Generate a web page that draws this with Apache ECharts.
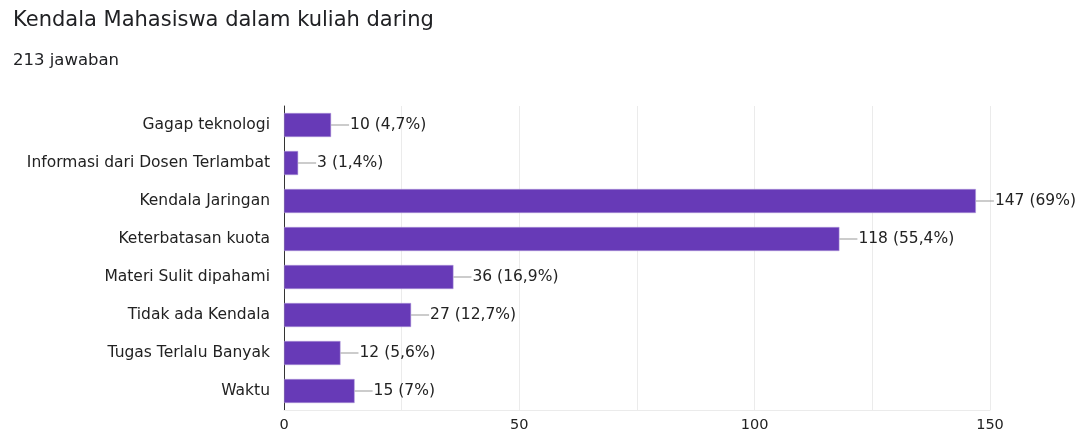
<!DOCTYPE html>
<html>
<head>
<meta charset="utf-8">
<script src="https://cdn.jsdelivr.net/npm/echarts@6/dist/echarts.min.js"></script>
<style>
  html, body { margin: 0; padding: 0; background: #fff; }
  #chart { width: 1079px; height: 439px; }
</style>
</head>
<body>
<div id="chart"></div>
<script>
const categories = [
  'Gagap teknologi',
  'Informasi dari Dosen Terlambat',
  'Kendala Jaringan',
  'Keterbatasan kuota',
  'Materi Sulit dipahami',
  'Tidak ada Kendala',
  'Tugas Terlalu Banyak',
  'Waktu'
];
const counts = [10, 3, 147, 118, 36, 27, 12, 15];
const percents = ['4,7%', '1,4%', '69%', '55,4%', '16,9%', '12,7%', '5,6%', '7%'];
const xTicks = [0, 50, 100, 150];

const chart = echarts.init(document.getElementById('chart'));
const fontName = 'DejaVu Sans';

chart.setOption({
  animation: false,
  title: [
    {
      text: 'Kendala Mahasiswa dalam kuliah daring',
      left: 8,
      top: 5,
      textStyle: { fontFamily: fontName, fontSize: 21, fontWeight: 'normal', color: '#202124' }
    },
    {
      text: '213 jawaban',
      left: 8,
      top: 47,
      textStyle: { fontFamily: fontName, fontSize: 16.5, fontWeight: 'normal', color: '#202124' }
    }
  ],
  grid: { left: 284, right: 89, top: 106, bottom: 29, containLabel: false },
  xAxis: {
    type: 'value',
    min: 0,
    max: 150,
    interval: 25,
    axisLine: { show: true, lineStyle: { color: '#ebebeb' } },
    axisTick: { show: false },
    splitLine: { lineStyle: { color: '#ebebeb' } },
    axisLabel: {
      margin: 8,
      fontFamily: fontName,
      fontSize: 14.5,
      color: '#222',
      formatter: v => (xTicks.indexOf(v) >= 0 ? String(v) : '')
    }
  },
  yAxis: {
    type: 'category',
    inverse: true,
    data: categories,
    axisLine: { show: true, lineStyle: { color: '#333', width: 1 } },
    axisTick: { show: false },
    axisLabel: {
      margin: 14,
      fontFamily: fontName,
      fontSize: 15.5,
      color: '#222'
    }
  },
  series: [
    {
      type: 'bar',
      data: counts,
      barWidth: 24,
      itemStyle: { color: '#673ab7', borderColor: '#b39ddb', borderWidth: 0.5 },
      label: {
        show: true,
        position: 'right',
        distance: 0,
        formatter: p => '{l|}{v|' + p.value + ' (' + percents[p.dataIndex] + ')}',
        rich: {
          l: { width: 18, height: 1, backgroundColor: '#999' },
          v: { fontFamily: fontName, fontSize: 15.5, color: '#222', padding: [0, 0, 0, 1] }
        }
      }
    }
  ]
});
</script>
</body>
</html>
